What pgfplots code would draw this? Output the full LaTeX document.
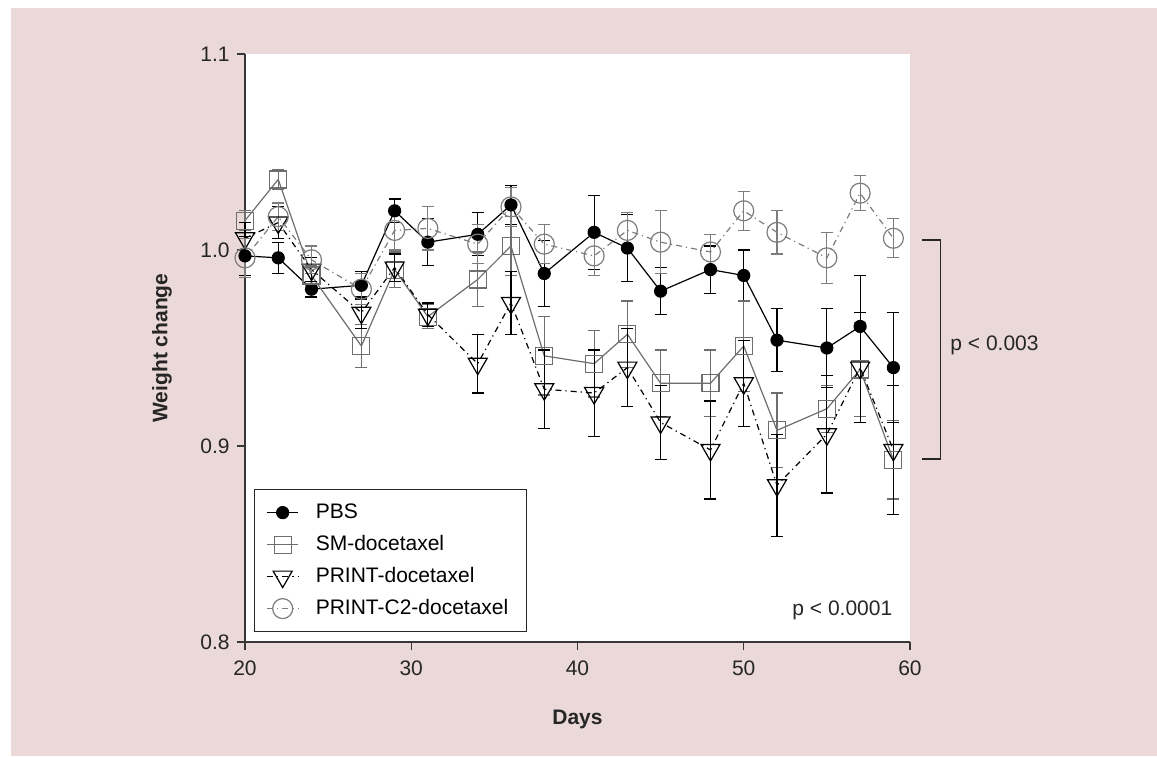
\documentclass[border=0pt]{standalone}
\usepackage{pgfplots}
\pgfplotsset{compat=1.18}
\usepackage{pgfplotstable}
\usepackage{fontspec}
\setmainfont{Liberation Sans}
\definecolor{bgpink}{RGB}{235,216,216}
\definecolor{smgray}{RGB}{110,110,110}
\definecolor{c2gray}{RGB}{125,125,125}
\definecolor{axgray}{RGB}{55,55,55}

\pgfplotstableread{
d v e
20 0.997 0.010
22 0.996 0.008
24 0.980 0.004
27 0.982 0.007
29 1.020 0.006
31 1.004 0.012
34 1.008 0.011
36 1.023 0.010
38 0.988 0.017
41 1.009 0.019
43 1.001 0.017
45 0.979 0.012
48 0.990 0.012
50 0.987 0.013
52 0.954 0.016
55 0.950 0.020
57 0.961 0.026
59 0.940 0.028
}\pbs

\pgfplotstableread{
d v e
20 1.015 0.005
22 1.036 0.005
24 0.987 0.005
27 0.951 0.011
29 0.990 0.009
31 0.966 0.006
34 0.985 0.014
36 1.002 0.015
38 0.946 0.020
41 0.942 0.017
43 0.957 0.017
45 0.932 0.017
48 0.932 0.017
50 0.951 0.023
52 0.908 0.019
55 0.919 0.012
57 0.939 0.024
59 0.893 0.020
}\smdoc

\pgfplotstableread{
d v e
20 1.006 0.008
22 1.014 0.008
24 0.990 0.006
27 0.968 0.008
29 0.991 0.007
31 0.967 0.006
34 0.942 0.015
36 0.973 0.016
38 0.929 0.020
41 0.927 0.022
43 0.940 0.020
45 0.912 0.019
48 0.898 0.025
50 0.932 0.022
52 0.880 0.026
55 0.906 0.030
57 0.940 0.028
59 0.898 0.033
}\printdoc

\pgfplotstableread{
d v e
20 0.996 0.010
22 1.017 0.007
24 0.995 0.007
27 0.980 0.008
29 1.010 0.010
31 1.011 0.011
34 1.003 0.010
36 1.022 0.010
38 1.003 0.010
41 0.997 0.010
43 1.010 0.009
45 1.004 0.016
48 0.999 0.009
50 1.020 0.010
52 1.009 0.011
55 0.996 0.013
57 1.029 0.009
59 1.006 0.010
}\ctwo

\begin{document}
\fontsize{10.5}{12.6}\selectfont
\begin{tikzpicture}
\fill[white] (-122.5pt,-57pt) rectangle (456pt,321pt);
\fill[bgpink] (-117pt,-57pt) rectangle (456pt,317pt);
\useasboundingbox (-122.5pt,-57pt) rectangle (456pt,321pt);
\begin{axis}[
  scale only axis, width=332.5pt, height=294pt,
  at={(0,0)}, anchor=south west,
  xmin=20, xmax=60, ymin=0.8, ymax=1.1,
  axis lines*=left,
  axis background/.style={fill=white},
  xtick={20,30,40,50,60}, ytick={0.8,0.9,1.0,1.1},
  /pgf/number format/assume math mode=true,
  yticklabel style={/pgf/number format/.cd,fixed,fixed zerofill,precision=1},
  xticklabel style={yshift=-1.5pt},
  tick align=outside, major tick length=4pt,
  tick style={axgray, line width=0.6pt},
  axis line style={axgray, line width=0.7pt},
  ticklabel style={font=\fontsize{10.5}{12.6}\selectfont, text=black!85},
  xlabel={\textbf{Days}}, ylabel={\textbf{Weight change}},
  label style={font=\fontsize{10.5}{12.6}\selectfont, text=black!85},
  xlabel style={at={(axis description cs:0.5,-0.131)}, anchor=center},
  ylabel style={at={(axis description cs:-0.125,0.5)}, anchor=center},
  clip=false,
  legend cell align=left,
  legend style={at={(rel axis cs:0.0135,0.2602)}, anchor=north west,
    draw=black!85, line width=0.6pt, fill=white,
    font=\fontsize{10.5}{12.6}\selectfont,
    inner xsep=6pt, inner ysep=3.5pt, row sep=0pt, column sep=5.5pt,
    nodes={text height=8pt, text depth=2pt, inner sep=3pt}},
  legend image code/.code={\draw[mark repeat=2,mark phase=2,#1] plot coordinates {(0pt,0pt) (7.75pt,0pt) (15.5pt,0pt)};},
]
\addplot[black, line width=0.6pt, mark=*, mark size=3pt,
  error bars/.cd, y dir=both, y explicit,
  error bar style={black, line width=0.6pt, solid},
  error mark options={rotate=90, black, mark size=3pt, line width=0.6pt, solid}]
  table[x=d, y=v, y error=e] {\pbs};
\addlegendentry{PBS}
\addplot[smgray, line width=0.6pt, mark=square, mark size=4.25pt, mark options={solid},
  error bars/.cd, y dir=both, y explicit,
  error bar style={smgray, line width=0.6pt, solid},
  error mark options={rotate=90, smgray, mark size=3pt, line width=0.6pt, solid}]
  table[x=d, y=v, y error=e] {\smdoc};
\addlegendentry{SM-docetaxel}
\addplot[black, line width=0.6pt, dash pattern=on 3pt off 2pt on 0.6pt off 2pt,
  mark=triangle, mark size=5.5pt, mark options={solid, rotate=180},
  error bars/.cd, y dir=both, y explicit,
  error bar style={black, line width=0.6pt, solid},
  error mark options={rotate=90, black, mark size=3pt, line width=0.6pt, solid}]
  table[x=d, y=v, y error=e] {\printdoc};
\addlegendentry{PRINT-docetaxel}
\addplot[c2gray, line width=0.6pt, dash pattern=on 3pt off 2pt on 0.6pt off 2pt,
  mark=o, mark size=5pt, mark options={solid},
  error bars/.cd, y dir=both, y explicit,
  error bar style={c2gray, line width=0.6pt, solid},
  error mark options={rotate=90, c2gray, mark size=3pt, line width=0.6pt, solid}]
  table[x=d, y=v, y error=e] {\ctwo};
\addlegendentry{PRINT-C2-docetaxel}

\draw[black!85, line width=0.6pt] (axis cs:60.70,1.0051) -- (axis cs:61.85,1.0051) -- (axis cs:61.85,0.8934) -- (axis cs:60.70,0.8934);
\node[anchor=west, inner sep=0pt, text=black!85] at (axis cs:62.41,0.9515) {p < 0.003};
\node[anchor=east, inner sep=0pt, text=black!85] at (axis cs:58.96,0.8163) {p < 0.0001};
\end{axis}
\end{tikzpicture}
\end{document}
